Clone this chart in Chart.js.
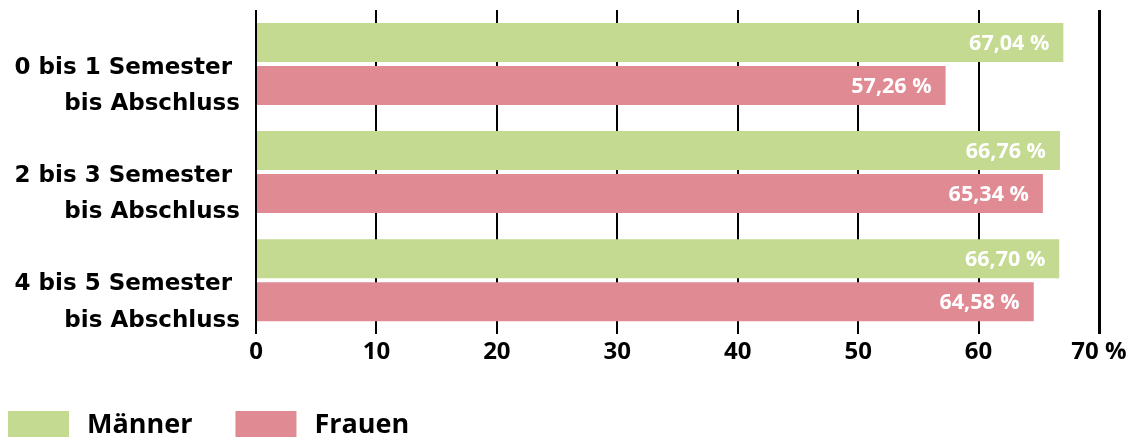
<!DOCTYPE html>
<html><head><meta charset="utf-8">
<script src="https://cdn.jsdelivr.net/npm/chart.js@4/dist/chart.umd.min.js"></script>
<style>html,body{margin:0;padding:0;background:#fff}#wrap{width:1133px;height:437px;position:relative}</style>
</head><body><div id="wrap"><canvas id="c"></canvas></div>
<script>
const categories = [["0 bis 1 Semester ","bis Abschluss"],["2 bis 3 Semester ","bis Abschluss"],["4 bis 5 Semester ","bis Abschluss"]];
const seriesNames = ["Männer","Frauen"];
const maenner = [67.04, 66.76, 66.70];
const frauen = [57.26, 65.34, 64.58];
const tickLabels = ["0","10","20","30","40","50","60","70 %"];
const colors = ["#c5da91","#e08a93"];
const FONT = "'Open Sans', 'Noto Sans', sans-serif";
const CAT_FONT = "'DejaVu Sans', sans-serif";

const valueLabels = {
  id:'valueLabels',
  afterDatasetsDraw(chart){
    const ctx = chart.ctx;
    ctx.save();
    ctx.font = "bold 21.5px " + FONT;
    ctx.fillStyle = "#fff";
    ctx.textAlign = "right";
    ctx.textBaseline = "middle";
    chart.data.datasets.forEach((ds,i)=>{
      chart.getDatasetMeta(i).data.forEach((bar,j)=>{
        const t = ds.data[j].toFixed(2).replace('.',',') + " %";
        ctx.fillText(t, bar.x - 14, bar.y + 1);
      });
    });
    ctx.restore();
  }
};
const customLegend = {
  id:'customLegend',
  afterDraw(chart){
    const ctx = chart.ctx;
    ctx.save();
    ctx.font = "bold 27px " + FONT;
    ctx.textBaseline = "middle";
    ctx.textAlign = "left";
    let x = 8;
    const y = 411, h = 26, w = 61;
    chart.data.datasets.forEach(ds=>{
      ctx.fillStyle = ds.backgroundColor;
      ctx.fillRect(x, y, w, h);
      ctx.fillStyle = "#000";
      ctx.fillText(ds.label, x + w + 18, y + h/2 + 1);
      x += w + 18 + ctx.measureText(ds.label).width + 43;
    });
    ctx.restore();
  }
};

new Chart(document.getElementById('c'), {
  type:'bar',
  data:{
    labels: categories,
    datasets:[
      {label:seriesNames[0], data:maenner, backgroundColor:colors[0], categoryPercentage:0.796, barPercentage:0.907},
      {label:seriesNames[1], data:frauen, backgroundColor:colors[1], categoryPercentage:0.796, barPercentage:0.907}
    ]
  },
  options:{
    indexAxis:'y',
    responsive:true, maintainAspectRatio:false, animation:false,
    layout:{padding:{top:10,left:0,right:34,bottom:66}},
    plugins:{legend:{display:false}, tooltip:{enabled:false}},
    scales:{
      x:{
        min:0,max:70,
        ticks:{stepSize:10, color:'#000', padding:4, font:{family:FONT, size:24, weight:'bold'},
          callback:(v,i)=>tickLabels[i]},
        grid:{color:'#000', lineWidth:(c)=> c.index===7?3:2, drawTicks:false, tickLength:0},
        border:{display:false},
        afterFit(s){ s.paddingLeft = 0; s.paddingRight = 0; }
      },
      y:{
        ticks:{color:'#000', padding:8, labelOffset:22, font:{family:CAT_FONT, size:23, weight:'bold', lineHeight:1.6}},
        grid:{display:false},
        border:{display:false},
        afterFit(s){ s.width = 256; s.paddingTop = 0; s.paddingBottom = 0; }
      }
    }
  },
  plugins:[valueLabels, customLegend]
});
</script></body></html>
